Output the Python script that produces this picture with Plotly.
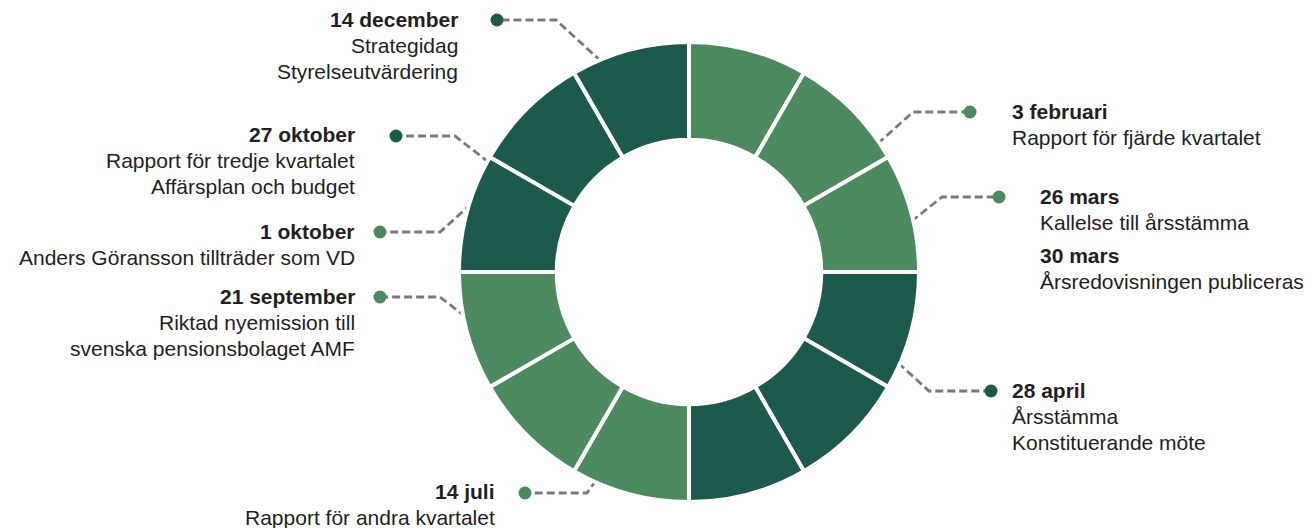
import math
import plotly.graph_objects as go

# ---------------- data ----------------
months = ["jan", "feb", "mar", "apr", "maj", "jun", "jul", "aug", "sep", "okt", "nov", "dec"]
month_values = [1, 1, 1, 1, 1, 1, 1, 1, 1, 1, 1, 1]
month_quarter_tone = ["light", "light", "light", "dark", "dark", "dark",
                      "light", "light", "light", "dark", "dark", "dark"]

event_dates = ["3 februari", "26 mars", "30 mars", "28 april", "14 juli",
               "21 september", "1 oktober", "27 oktober", "14 december"]
event_texts = [
    ["Rapport för fjärde kvartalet"],
    ["Kallelse till årsstämma"],
    ["Årsredovisningen publiceras"],
    ["Årsstämma", "Konstituerande möte"],
    ["Rapport för andra kvartalet"],
    ["Riktad nyemission till", "svenska pensionsbolaget AMF"],
    ["Anders Göransson tillträder som VD"],
    ["Rapport för tredje kvartalet", "Affärsplan och budget"],
    ["Strategidag", "Styrelseutvärdering"],
]
event_dot_tone = ["light", "light", None, "dark", "light", "light", "light", "dark", "dark"]

# ---------------- styles / layout ----------------
W, H = 1312, 528
tones = {"light": "#4e8a5f", "dark": "#1d5a4e"}
text_color = "#231f20"
dash_color = "#7a7a7a"
FONT = "Liberation Sans, Arial, Helvetica, sans-serif"
FS = 21
LINE = 26

cx, cy, R = 689, 272, 230  # donut centre / radius in px

# leader geometry: (angle clockwise from 12 o'clock on ring, elbow px, dot px)
leaders = {
    0: (55.8, (913, 112), (970, 112)),
    1: (77.2, (942, 197), (999, 197)),
    3: (113.5, (929, 391), (991, 391)),
    4: (204.0, (587, 493), (525, 493)),
    5: (258.7, (440, 297), (380, 297)),
    6: (287.4, (440, 232), (380, 232)),
    7: (298.7, (455, 136), (396, 136)),
    8: (337.4, (556, 20), (497, 20)),
}
# label anchor: (x px, first line centre y px, side)
labels = [
    (1010, 111, "left"),
    (1038, 196, "left"),
    (1038, 255, "left"),
    (1010, 390, "left"),
    (497, 491, "right"),
    (357, 296, "right"),
    (357, 231, "right"),
    (357, 134, "right"),
    (460, 19, "right"),
]

fig = go.Figure()

fig.add_trace(go.Pie(
    labels=months,
    values=month_values,
    hole=0.575,
    sort=False,
    direction="clockwise",
    rotation=0,
    marker=dict(colors=[tones[t] for t in month_quarter_tone],
                line=dict(color="white", width=4)),
    textinfo="none",
    hoverinfo="label",
    showlegend=False,
    domain=dict(x=[(cx - R) / W, (cx + R) / W], y=[(H - cy - R) / H, (H - cy + R) / H]),
))

for i, (ang, elbow, dot) in leaders.items():
    a = math.radians(ang)
    r0 = R - 2
    sx, sy = cx + r0 * math.sin(a), cy - r0 * math.cos(a)
    fig.add_trace(go.Scatter(
        x=[sx, elbow[0], dot[0]], y=[sy, elbow[1], dot[1]],
        mode="lines", line=dict(color=dash_color, width=2.8, dash="8px,4px"),
        hoverinfo="skip", showlegend=False, xaxis="x", yaxis="y",
    ))
    fig.add_trace(go.Scatter(
        x=[dot[0]], y=[dot[1]], mode="markers",
        marker=dict(size=13, color=tones[event_dot_tone[i]]),
        hoverinfo="skip", showlegend=False, xaxis="x", yaxis="y",
    ))

annotations = []
for i, (lx, ly, side) in enumerate(labels):
    lines = [f"<b>{event_dates[i]}</b>"] + event_texts[i]
    for k, t in enumerate(lines):
        annotations.append(dict(
            x=lx, y=ly + k * LINE, xref="x", yref="y",
            text=t, showarrow=False,
            xanchor=side, align=side, yanchor="middle",
            font=dict(family=FONT, size=FS, color=text_color),
        ))

fig.update_layout(
    width=W, height=H,
    margin=dict(l=0, r=0, t=0, b=0),
    paper_bgcolor="white", plot_bgcolor="rgba(0,0,0,0)",
    xaxis=dict(range=[0, W], visible=False, fixedrange=True, domain=[0, 1]),
    yaxis=dict(range=[H, 0], visible=False, fixedrange=True, domain=[0, 1]),
    annotations=annotations,
    showlegend=False,
)

fig.write_html("out.html", config={"displayModeBar": False},
               post_script="document.body.style.margin='0';")
